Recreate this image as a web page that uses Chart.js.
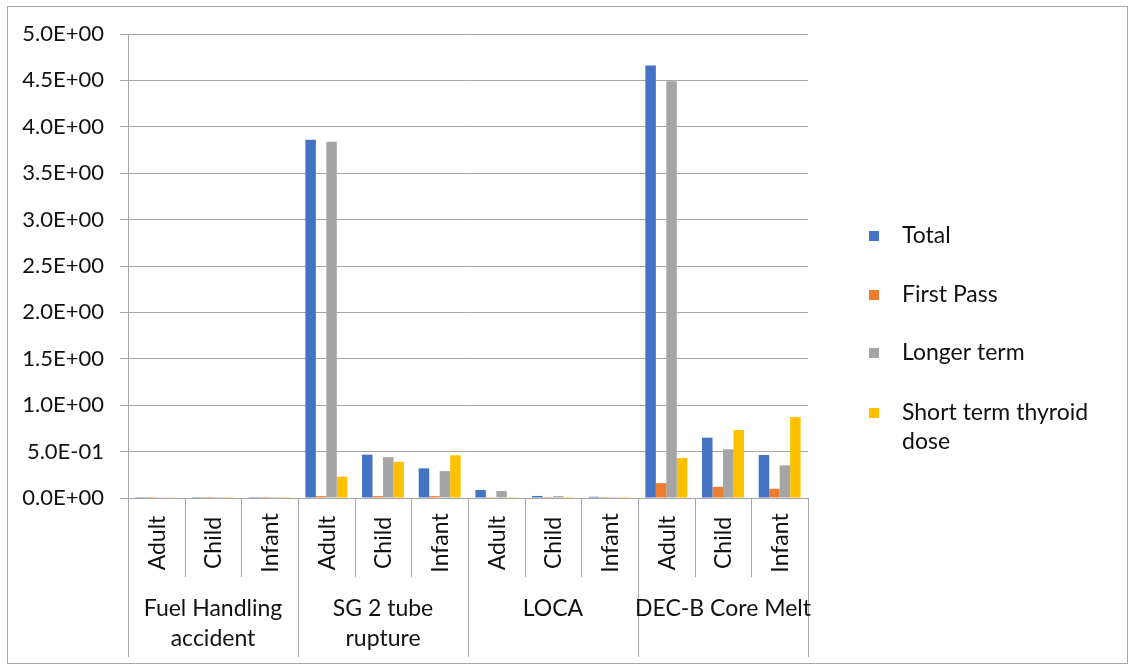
<!DOCTYPE html>
<html>
<head>
<meta charset="utf-8">
<script src="https://cdn.jsdelivr.net/npm/chart.js@4.4.0/dist/chart.umd.min.js"></script>
<style>
  html, body { margin: 0; padding: 0; background: #fff; }
  #wrap { width: 1129px; height: 668px; position: relative; }
</style>
</head>
<body>
<div id="wrap"><canvas id="c" width="1129" height="668"></canvas></div>
<script>
// Scenario groups and the age classes within each
const groups = [["Fuel Handling", "accident"], ["SG 2 tube", "rupture"], ["LOCA"], ["DEC-B Core Melt"]];
const ages = ["Adult", "Child", "Infant"];
const categories = ["Adult", "Child", "Infant", "Adult", "Child", "Infant", "Adult", "Child", "Infant", "Adult", "Child", "Infant"];

// Dose per series (same order as categories)
const total       = [0.010, 0.001, 0.001, 3.86, 0.467, 0.32, 0.086, 0.022, 0.013, 4.66, 0.65, 0.463];
const firstPass   = [0.001, 0.0005, 0.0005, 0.02, 0.02, 0.02, 0.002, 0.001, 0.001, 0.16, 0.12, 0.10];
const longerTerm  = [0.008, 0.001, 0.001, 3.84, 0.44, 0.29, 0.075, 0.020, 0.008, 4.49, 0.525, 0.352];
const shortThyroid = [0.002, 0.001, 0.001, 0.23, 0.39, 0.46, 0.002, 0.001, 0.001, 0.43, 0.733, 0.873];

const seriesNames = ["Total", "First Pass", "Longer term", ["Short term thyroid", "dose"]];
const seriesColors = ["#4472C4", "#ED7D31", "#A5A5A5", "#FFC000"];

const yTicks = [0, 0.5, 1.0, 1.5, 2.0, 2.5, 3.0, 3.5, 4.0, 4.5, 5.0];

const FONT = "Lato, 'Liberation Sans', sans-serif";
const TEXT_SIZE = 23;

function sci(v) {
  if (v === 0) return "0.0E+00";
  let e = Math.floor(Math.log10(Math.abs(v)) + 1e-9);
  let m = v / Math.pow(10, e);
  const sign = e < 0 ? "-" : "+";
  const ea = Math.abs(e);
  return m.toFixed(1) + "E" + sign + (ea < 10 ? "0" : "") + ea;
}

// Two-row category axis plus the side legend
const layoutPlugin = {
  id: "multiAxisLegend",
  afterDraw(chart) {
    const ctx = chart.ctx;
    const xs = chart.scales.x;
    const area = chart.chartArea;
    const n = categories.length;
    const w = (area.right - area.left) / n;
    const y0 = area.bottom;
    const innerBottom = 577;
    const outerBottom = 657;

    ctx.save();
    ctx.strokeStyle = "#a6a6a6";
    ctx.lineWidth = 1;
    for (let i = 0; i <= n; i++) {
      const x = Math.round(xs.getPixelForValue(0) - w / 2 + i * w) + 0.5;
      const isGroup = i % 3 === 0;
      ctx.beginPath();
      ctx.moveTo(x, y0);
      ctx.lineTo(x, isGroup ? outerBottom : innerBottom);
      ctx.stroke();
    }

    // age labels, rotated
    ctx.fillStyle = "#111";
    ctx.font = TEXT_SIZE + "px " + FONT;
    ctx.textAlign = "center";
    ctx.textBaseline = "middle";
    categories.forEach((lab, i) => {
      const cx = xs.getPixelForValue(i);
      ctx.save();
      ctx.translate(cx + 1, 543);
      ctx.rotate(-Math.PI / 2);
      ctx.fillText(lab, 0, 0);
      ctx.restore();
    });

    // group labels
    groups.forEach((lines, g) => {
      const cx = (xs.getPixelForValue(g * 3) + xs.getPixelForValue(g * 3 + 2)) / 2;
      lines.forEach((t, k) => ctx.fillText(t, cx, 609 + k * 30));
    });

    // legend
    const lx = 869, textX = 902;
    const ys = [236, 295, 353, 413];
    chart.data.datasets.forEach((ds, i) => {
      ctx.fillStyle = ds.backgroundColor;
      ctx.fillRect(lx, ys[i] - 5, 10, 10);
      ctx.fillStyle = "#111";
      ctx.textAlign = "left";
      const name = seriesNames[i];
      const lines = Array.isArray(name) ? name : [name];
      lines.forEach((t, k) => ctx.fillText(t, textX, ys[i] + k * 29));
    });

    // chart frame
    ctx.strokeStyle = "#a6a6a6";
    ctx.strokeRect(7.5, 6.5, 1120, 657);
    ctx.restore();
  }
};

new Chart(document.getElementById("c"), {
  type: "bar",
  data: {
    labels: categories,
    datasets: [
      { label: "Total", data: total, backgroundColor: seriesColors[0] },
      { label: "First Pass", data: firstPass, backgroundColor: seriesColors[1] },
      { label: "Longer term", data: longerTerm, backgroundColor: seriesColors[2] },
      { label: "Short term thyroid dose", data: shortThyroid, backgroundColor: seriesColors[3] }
    ]
  },
  options: {
    responsive: false,
    animation: false,
    devicePixelRatio: 1,
    layout: { padding: { left: 0, right: 321, top: 34, bottom: 0 } },
    datasets: { bar: { categoryPercentage: 0.74, barPercentage: 1.0 } },
    plugins: { legend: { display: false }, tooltip: { enabled: false } },
    scales: {
      x: {
        grid: { display: false },
        border: { display: true, color: "#a6a6a6" },
        ticks: { display: false },
        afterFit(s) { s.height = 170; }
      },
      y: {
        min: 0, max: 5,
        afterBuildTicks(s) { s.ticks = yTicks.map(v => ({ value: v })); },
        afterFit(s) { s.width = 128; },
        grid: { color: "#a6a6a6", tickLength: 8, drawTicks: true },
        border: { display: true, color: "#a6a6a6" },
        ticks: {
          padding: 16,
          color: "#111",
          font: { family: FONT, size: 22 },
          callback: (v) => sci(v)
        }
      }
    }
  },
  plugins: [layoutPlugin]
});
</script>
</body>
</html>
